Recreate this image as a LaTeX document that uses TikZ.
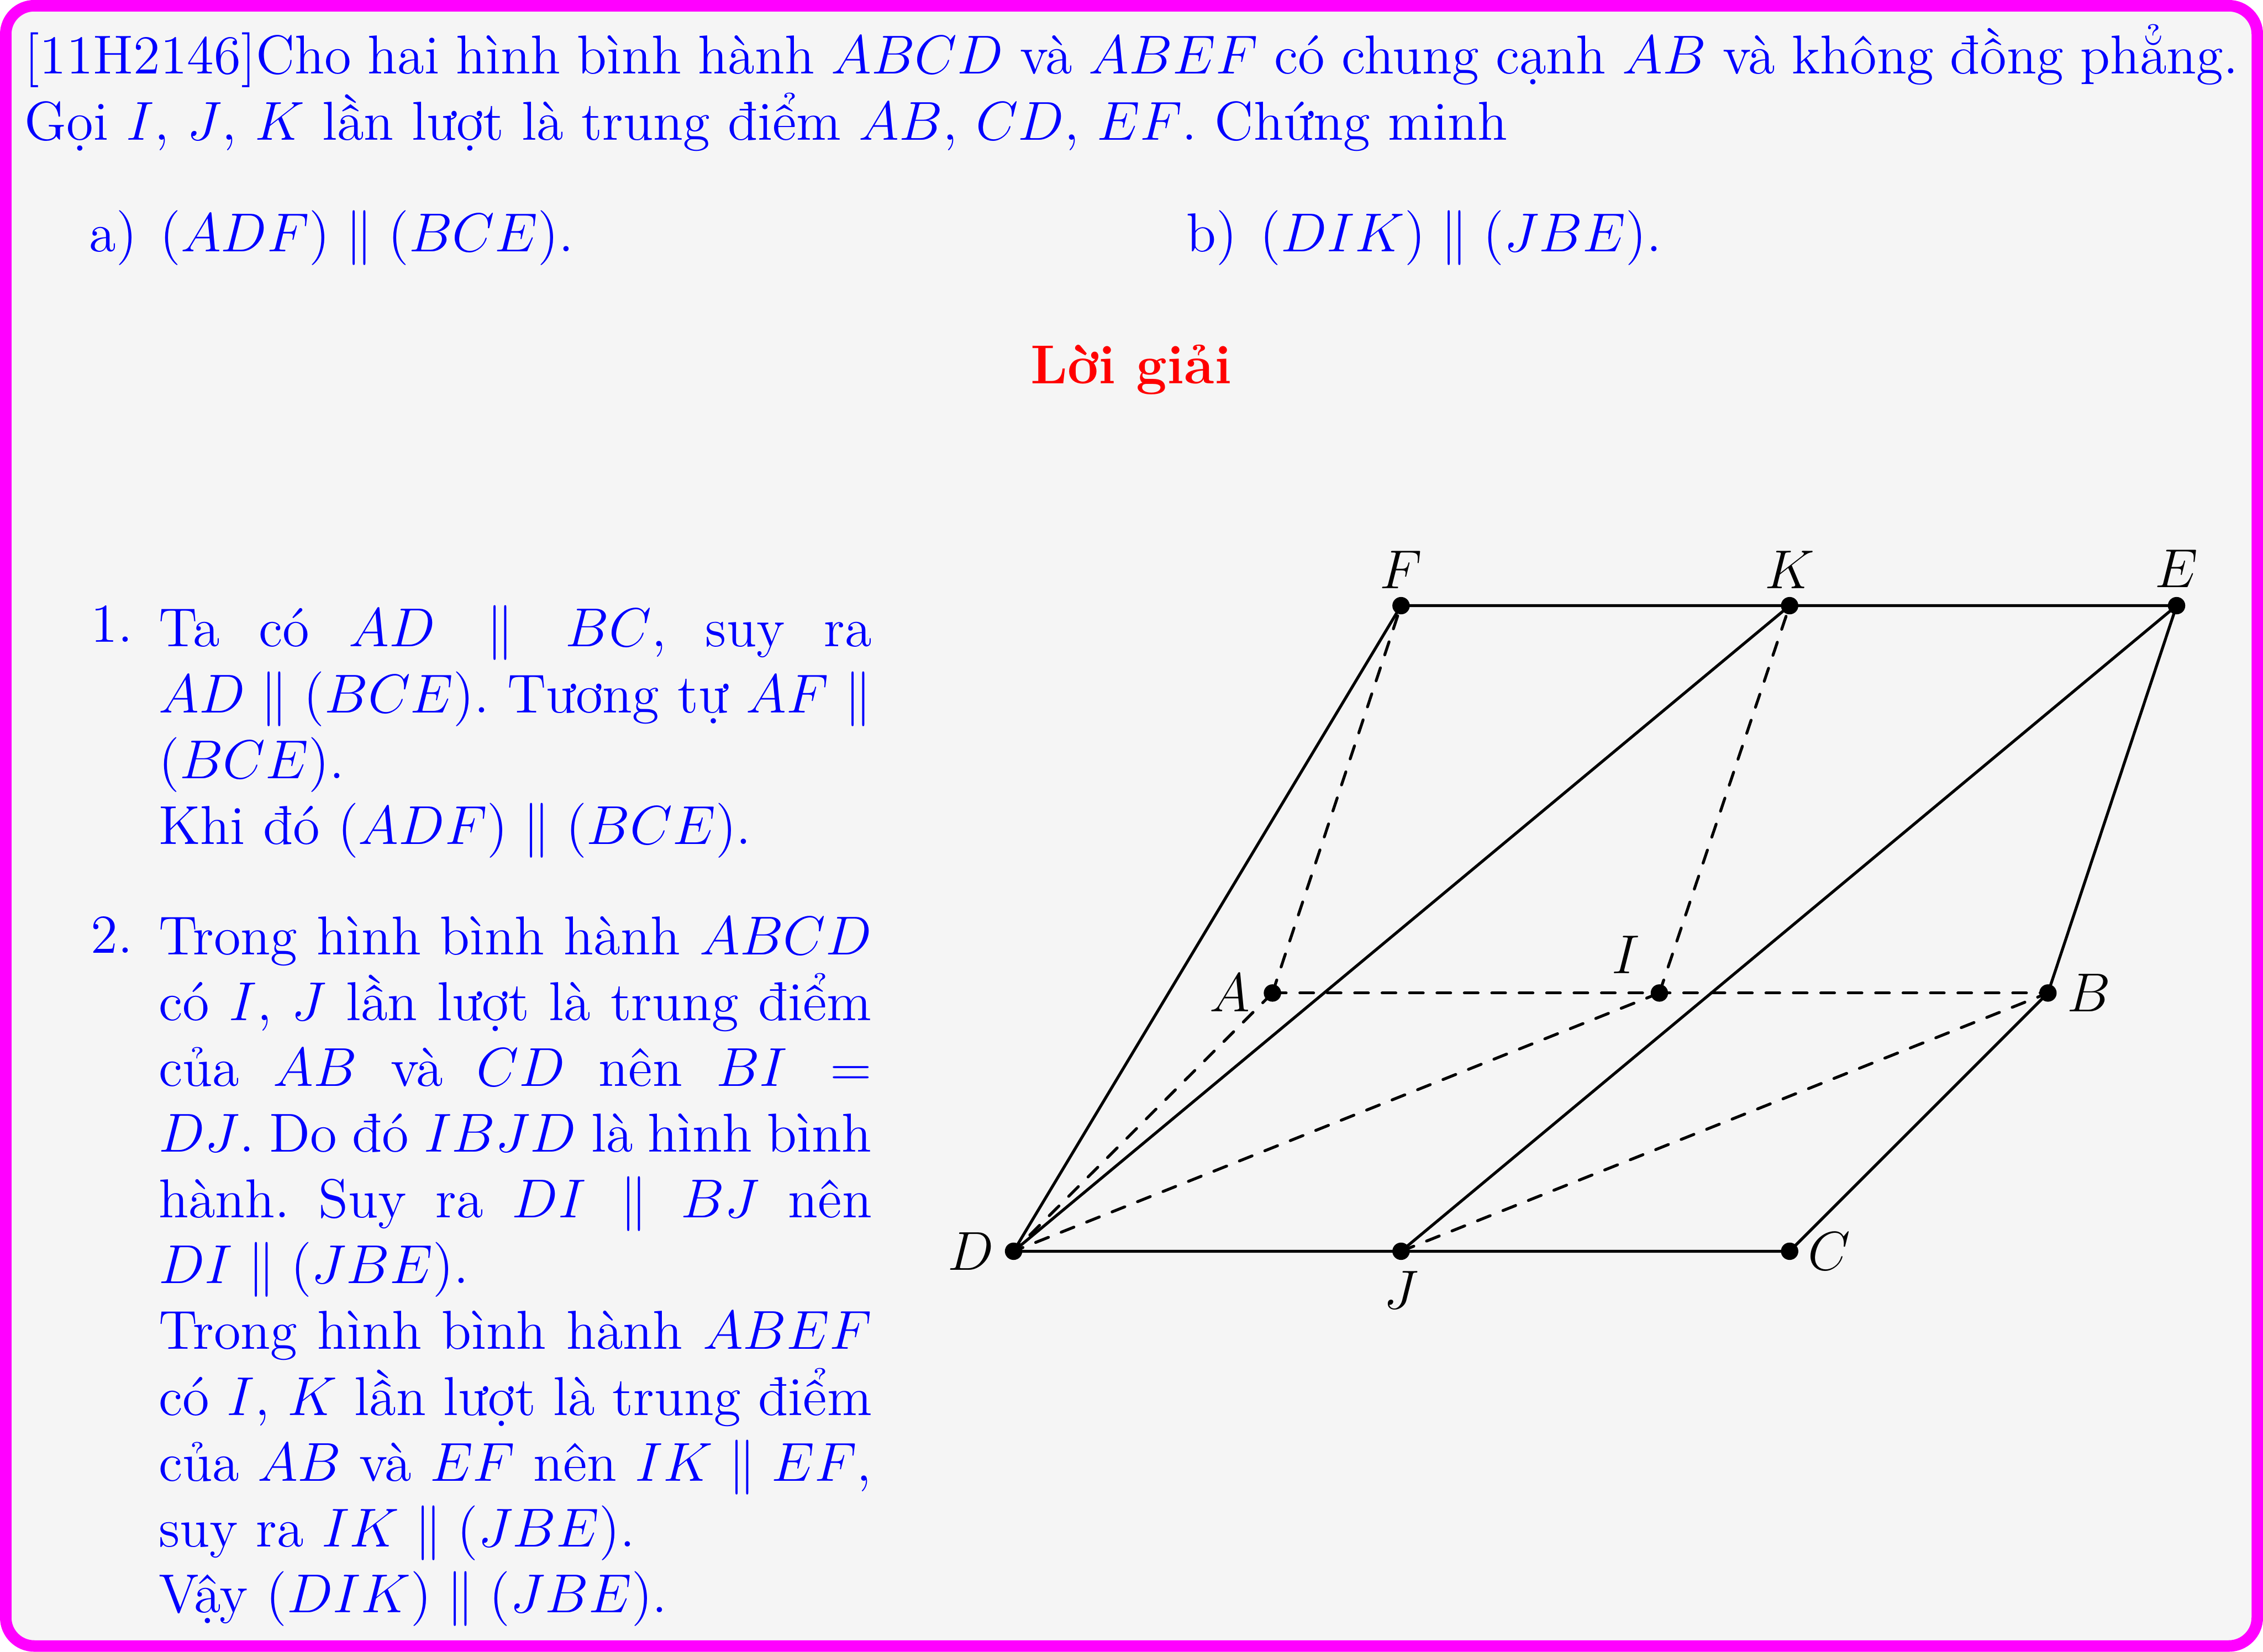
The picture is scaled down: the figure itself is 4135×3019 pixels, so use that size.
\documentclass[12pt,tikz,border=0pt]{standalone}
\usepackage{xcolor}
\usetikzlibrary{positioning}
\definecolor{paper}{HTML}{F5F5F5}
\definecolor{khung}{HTML}{FF00FF}
\definecolor{chu}{HTML}{0000FF}
\definecolor{tieude}{HTML}{FF0000}
\frenchspacing
\begin{document}
\begin{tikzpicture}[x=0.11976pt,y=-0.11976pt,
txt/.style={inner sep=0pt,outer sep=0pt,chu,anchor=north west,align=justify,execute at begin node={\baselineskip=14.4pt}},
dot/.style={circle,fill=black,inner sep=0pt,minimum size=3.8pt},
lbl/.style={inner sep=0pt},
seg/.style={line width=0.63pt,line cap=round},
dsh/.style={line width=0.63pt,line cap=round,dashed}]
\useasboundingbox (0,0) rectangle (4135,3019);
\draw[khung,fill=paper,line width=2.515pt,rounded corners=6.23pt] (10.5,10.5) rectangle (4124.5,3008.5);
% de bai
\node[txt,text width=4045*0.11976pt] (debai) at (45,45) {[11H2146]Cho hai hình bình hành $ABCD$ và $ABEF$ có chung cạnh $AB$ và không đồng phẳng.\linebreak
Gọi $I$, $J$, $K$ lần lượt là trung điểm $AB$, $CD$, $EF$. Chứng minh};
\node[txt] (cau a) at (163,385) {a)\hspace{5pt}$(ADF)\parallel(BCE)$.};
\node[txt] (cau b) at (2168,385) {b)\hspace{5pt}$(DIK)\parallel(JBE)$.};
\node[inner sep=0pt,tieude,font=\bfseries] (loigiai) at (2067,676) {Lời giải};
% loi giai
\node[txt] (so 1) at (166,1107) {1.};
\node[txt,text width=1303*0.11976pt] (y 1) at (290,1107) {Ta có $AD\parallel BC$, suy ra\linebreak
$AD\parallel(BCE)$. Tương tự $AF\parallel$\linebreak
$(BCE)$.\\
Khi đó $(ADF)\parallel(BCE)$.};
\node[txt] (so 2) at (166,1675) {2.};
\node[txt,text width=1303*0.11976pt] (y 2) at (290,1675) {Trong hình bình hành $ABCD$\linebreak
có $I$, $J$ lần lượt là trung điểm\linebreak
của $AB$ và $CD$ nên $BI=$\linebreak
$DJ$. Do đó $IBJD$ là hình bình\linebreak
hành. Suy ra $DI\parallel BJ$ nên\linebreak
$DI\parallel(JBE)$.\\
Trong hình bình hành $ABEF$\linebreak
có $I$, $K$ lần lượt là trung điểm\linebreak
của $AB$ và $EF$ nên $IK\parallel EF$,\linebreak
suy ra $IK\parallel(JBE)$.\\
Vậy $(DIK)\parallel(JBE)$.};
% hinh ve
\node[dot] (F) at (2560,1107) {};
\node[dot] (K) at (3270,1107) {};
\node[dot] (E) at (3977,1107) {};
\node[dot] (A) at (2325,1815) {};
\node[dot] (I) at (3032,1815) {};
\node[dot] (B) at (3742,1815) {};
\node[dot] (D) at (1852,2287) {};
\node[dot] (J) at (2560,2287) {};
\node[dot] (C) at (3270,2287) {};
\node[lbl,above=1.5pt of F] (nF) {$F$};
\node[lbl,above=1.5pt of K] (nK) {$K$};
\node[lbl,above=1.7pt of E] (nE) {$E$};
\node[lbl,left=2.65pt of A] (nA) {$A$};
\node[lbl,above left=3.6pt of I] (nI) {$I$};
\node[lbl,right=1.9pt of B] (nB) {$B$};
\node[lbl,left=2.05pt of D] (nD) {$D$};
\node[lbl,below=2.05pt of J] (nJ) {$J$};
\node[lbl,right=1.7pt of C] (nC) {$C$};
\draw[seg] (D.center)--(F.center)--(E.center)--(B.center)--(C.center)--(D.center);
\draw[seg] (D.center)--(K.center); \draw[seg] (J.center)--(E.center);
\draw[dsh] (A.center)--(B.center); \draw[dsh] (A.center)--(D.center); \draw[dsh] (A.center)--(F.center);
\draw[dsh] (I.center)--(K.center); \draw[dsh] (I.center)--(D.center); \draw[dsh] (J.center)--(B.center);
\end{tikzpicture}
\end{document}
